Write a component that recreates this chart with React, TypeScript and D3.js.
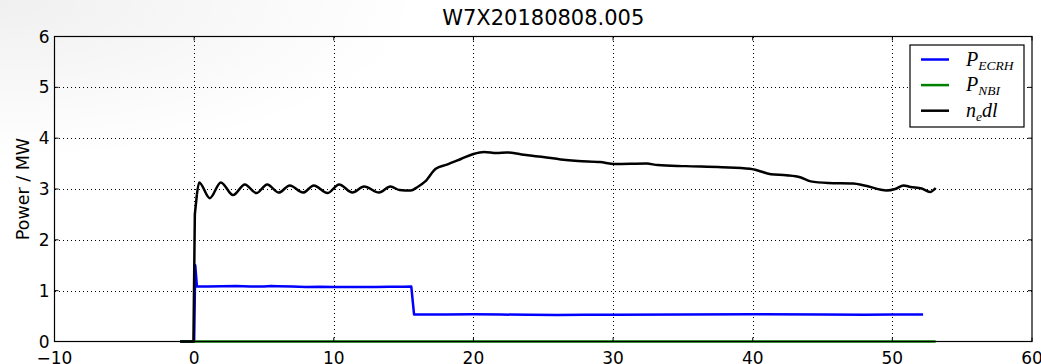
import React from "react";
import * as d3 from "d3";

const title = "W7X20180808.005";
const yLabel = "Power / MW";
const xTicks = [-10, 0, 10, 20, 30, 40, 50, 60];
const yTicks = [0, 1, 2, 3, 4, 5, 6];

const ecrhT = [-1.0, 0.0, 0.08, 0.2, 1, 2, 3, 4, 5, 5.5, 6, 7, 8, 9, 10, 11, 12, 13, 14, 15, 15.55, 15.75, 18, 20, 22, 24, 26, 28, 30, 35, 40, 45, 48, 50, 52.2];
const ecrhV = [0, 0, 1.5, 1.08, 1.08, 1.085, 1.09, 1.08, 1.08, 1.09, 1.085, 1.08, 1.07, 1.075, 1.07, 1.07, 1.07, 1.07, 1.075, 1.075, 1.08, 0.53, 0.53, 0.535, 0.53, 0.525, 0.52, 0.525, 0.525, 0.53, 0.535, 0.53, 0.525, 0.53, 0.53];

const nbiT = [-1.0, 53.1];
const nbiV = [0, 0];

const nedlT = [-1.0, -0.05, 0.05, 0.2, 0.36, 1.12, 1.91, 2.79, 3.63, 4.46, 5.23, 6.06, 6.85, 7.8, 8.57, 9.55, 10.38, 11.34, 12.17, 13.24, 14.06, 14.7, 15.5, 16.0, 16.55, 17.3, 18.1, 19.1, 20.0, 20.77, 21.66, 22.4, 23.45, 25.0, 26.26, 27.5, 29.07, 30.1, 32.4, 33.2, 35.2, 37.8, 39.8, 40.3, 41.3, 42.4, 43.4, 44.15, 45.4, 47.2, 48.0, 49.6, 50.2, 50.8, 51.3, 52.1, 52.7, 53.1];
const nedlV = [0, 0, 2.5, 2.9, 3.13, 2.82, 3.13, 2.88, 3.09, 2.92, 3.09, 2.93, 3.07, 2.93, 3.07, 2.92, 3.09, 2.93, 3.05, 2.93, 3.05, 2.98, 2.97, 3.04, 3.15, 3.4, 3.48, 3.59, 3.69, 3.73, 3.71, 3.72, 3.68, 3.63, 3.58, 3.55, 3.53, 3.49, 3.5, 3.47, 3.45, 3.43, 3.4, 3.37, 3.29, 3.27, 3.23, 3.15, 3.12, 3.11, 3.07, 2.97, 3.0, 3.07, 3.04, 3.01, 2.94, 3.02];

const W = 1041, H = 364;
const L = 54.5, R = 1032, T = 36.5, B = 341.5;

export default function App() {
  const x = d3.scaleLinear().domain([-10, 60]).range([L, R]);
  const y = d3.scaleLinear().domain([0, 6]).range([B, T]);
  const lin = d3.line<[number, number]>().x(d => x(d[0])).y(d => y(d[1]));
  const smooth = d3.line<[number, number]>().x(d => x(d[0])).y(d => y(d[1])).curve(d3.curveMonotoneX);
  const ecrh = ecrhT.map((t, i) => [t, ecrhV[i]] as [number, number]);
  const nbi = nbiT.map((t, i) => [t, nbiV[i]] as [number, number]);
  const nedlA = nedlT.slice(0, 4).map((t, i) => [t, nedlV[i]] as [number, number]);
  const nedlB = nedlT.slice(3).map((t, i) => [t, nedlV[i + 3]] as [number, number]);
  const font = "DejaVu Sans, sans-serif";
  const math = "'Liberation Serif', 'DejaVu Serif', serif";
  const legend = [
    { c: "#0000ff", main: "P", sub: "ECRH" },
    { c: "#008000", main: "P", sub: "NBI" },
    { c: "#000000", main: "n", sub: "e", rest: "dl" },
  ];
  return (
    <svg width={W} height={H} style={{ position: "absolute", left: 0, top: 0, background: "#fff" }}>
      <defs>
        <radialGradient id="shade" cx="0" cy="0" r="1" gradientUnits="objectBoundingBox">
          <stop offset="0" stopColor="#000" stopOpacity={0.06} />
          <stop offset="1" stopColor="#000" stopOpacity={0} />
        </radialGradient>
      </defs>
      <rect x={0} y={0} width={W} height={H} fill="#fff" />
      <rect x={0} y={0} width={420} height={160} fill="url(#shade)" />
      <text x={(L + R) / 2} y={25} textAnchor="middle" fontFamily={font} fontSize={21}>{title}</text>
      <text transform={`translate(29,${(T + B) / 2}) rotate(-90)`} textAnchor="middle" fontFamily={font} fontSize={17.5}>{yLabel}</text>
      {/* grid */}
      {xTicks.slice(1, -1).map(t => (
        <line key={"gx" + t} x1={Math.round(x(t)) + 0.5} x2={Math.round(x(t)) + 0.5} y1={T} y2={B} stroke="#000" strokeWidth={1} strokeDasharray="1,3" shapeRendering="crispEdges" />
      ))}
      {yTicks.slice(1, -1).map(t => (
        <line key={"gy" + t} x1={L} x2={R} y1={Math.round(y(t)) + 0.5} y2={Math.round(y(t)) + 0.5} stroke="#000" strokeWidth={1} strokeDasharray="1,3" shapeRendering="crispEdges" />
      ))}
      {/* data */}
      <path d={lin(ecrh) || ""} fill="none" stroke="#0000ff" strokeWidth={2.5} strokeLinejoin="round" />
      <path d={lin(nbi) || ""} fill="none" stroke="#008000" strokeWidth={2.5} />
      <path d={lin(nedlA) || ""} fill="none" stroke="#000" strokeWidth={2.5} strokeLinejoin="round" />
      <path d={smooth(nedlB) || ""} fill="none" stroke="#000" strokeWidth={2.5} strokeLinejoin="round" />
      {/* ticks */}
      {xTicks.map(t => (
        <g key={"tx" + t}>
          <line x1={x(t)} x2={x(t)} y1={B} y2={B - 4} stroke="#000" />
          <line x1={x(t)} x2={x(t)} y1={T} y2={T + 4} stroke="#000" />
          <text x={x(t)} y={364} textAnchor="middle" fontFamily={font} fontSize={17}>{t < 0 ? "\u2212" + Math.abs(t) : t}</text>
        </g>
      ))}
      {yTicks.map(t => (
        <g key={"ty" + t}>
          <line x1={L} x2={L + 4} y1={y(t)} y2={y(t)} stroke="#000" />
          <line x1={R} x2={R - 4} y1={y(t)} y2={y(t)} stroke="#000" />
          <text x={49.5} y={y(t) + 6} textAnchor="end" fontFamily={font} fontSize={17}>{t}</text>
        </g>
      ))}
      <rect x={L} y={T} width={R - L} height={B - T} fill="none" stroke="#000" strokeWidth={1.2} />
      {/* legend */}
      <rect x={910} y={45} width={114} height={82} fill="#fff" stroke="#000" strokeWidth={1.2} />
      {legend.map((d, i) => {
        const ly = 59.5 + i * 25.6;
        return (
          <g key={"lg" + i}>
            <line x1={921} x2={949} y1={ly} y2={ly} stroke={d.c} strokeWidth={2.5} />
            <text x={966} y={ly + 6} fontFamily={math} fontStyle="italic" fontSize={20}>
              {d.main}
              <tspan fontSize={13.5} dy={4}>{d.sub}</tspan>
              {d.rest ? <tspan fontSize={20} dy={-4}>{d.rest}</tspan> : null}
            </text>
          </g>
        );
      })}
    </svg>
  );
}
